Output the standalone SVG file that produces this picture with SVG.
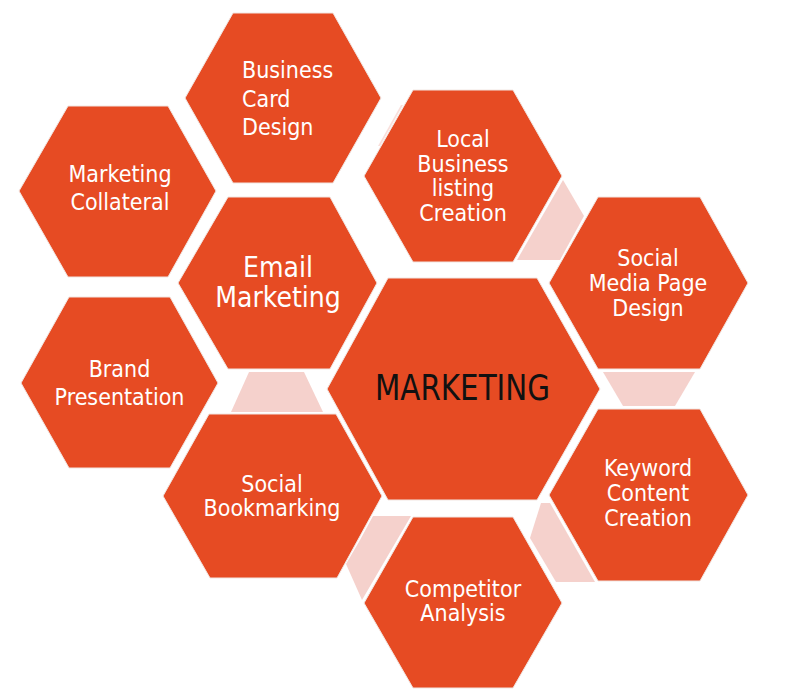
<svg xmlns="http://www.w3.org/2000/svg" width="800" height="700" viewBox="0 0 800 700">
<style>
.hex{fill:#E64B23;stroke:#f1e6e2;stroke-width:1}
.con{fill:#F5D1CC}
.t{font-family:"DejaVu Sans Condensed","DejaVu Sans",sans-serif;font-size:23px;fill:#ffffff;text-anchor:middle}
.tl{text-anchor:start}
.big{font-size:28px}
.main{font-family:"DejaVu Sans Condensed","DejaVu Sans",sans-serif;font-size:35px;fill:#111111;text-anchor:middle}
</style>
<rect width="800" height="700" fill="#ffffff"/>
<g id="connectors">
<polygon class="con" points="563,180 584,216 560,260 517,260 540,220"/>
<polygon class="con" points="249,372 304,372 323,412 231,412"/>
<polygon class="con" points="603,372 695,372 675,406 623,406"/>
<polygon class="con" points="373,516 411,516 362,600 346,564 360,540"/>
<polygon class="con" points="541,503 550,503 595,582 556,582 530,538"/>
<polygon class="con" points="401,105 403,105 380,146 378,146" opacity="0.7"/>
</g>
<g id="n-business-card">
<polygon class="hex" points="233,13 333,13 381,98 333,183 233,183 185,98"/>
<text class="t tl"><tspan x="242" y="78">Business</tspan><tspan x="242" y="107">Card</tspan><tspan x="242" y="135">Design</tspan></text>
</g>
<g id="n-marketing-collateral">
<polygon class="hex" points="68,106 168,106 216,191 168,277 68,277 19,191"/>
<text class="t"><tspan x="120" y="182">Marketing</tspan><tspan x="120" y="210">Collateral</tspan></text>
</g>
<g id="n-brand-presentation">
<polygon class="hex" points="69,297 170,297 218,383 170,468 69,468 21,383"/>
<text class="t"><tspan x="119.5" y="377">Brand</tspan><tspan x="119.5" y="405">Presentation</tspan></text>
</g>
<g id="n-email-marketing">
<polygon class="hex" points="228,197 330,197 377,283 330,369 228,369 178,283"/>
<text class="t big"><tspan x="278" y="277">Email</tspan><tspan x="278" y="307">Marketing</tspan></text>
</g>
<g id="n-social-bookmarking">
<polygon class="hex" points="209,414 336,414 382,496 337,578 210,578 163,496"/>
<text class="t"><tspan x="272" y="492">Social</tspan><tspan x="272" y="516">Bookmarking</tspan></text>
</g>
<g id="n-marketing">
<polygon class="hex" points="388,278 537,278 600,389 537,500 388,500 327,389"/>
<text class="main" x="462.5" y="400" textLength="175" lengthAdjust="spacingAndGlyphs">MARKETING</text>
</g>
<g id="n-local-business">
<polygon class="hex" points="413,90 513,90 562,176 513,262 413,262 364,176"/>
<text class="t"><tspan x="463" y="147">Local</tspan><tspan x="463" y="172">Business</tspan><tspan x="463" y="196">listing</tspan><tspan x="463" y="221">Creation</tspan></text>
</g>
<g id="n-social-media">
<polygon class="hex" points="598,197 700,197 748,283 700,369 598,369 549,283"/>
<text class="t"><tspan x="648" y="266">Social</tspan><tspan x="648" y="291">Media Page</tspan><tspan x="648" y="316">Design</tspan></text>
</g>
<g id="n-keyword">
<polygon class="hex" points="598,409 700,409 748,495 700,581 598,581 549,495"/>
<text class="t"><tspan x="648" y="476">Keyword</tspan><tspan x="648" y="501">Content</tspan><tspan x="648" y="526">Creation</tspan></text>
</g>
<g id="n-competitor">
<polygon class="hex" points="413,517 513,517 562,603 513,688 413,688 364,603"/>
<text class="t"><tspan x="463" y="597">Competitor</tspan><tspan x="463" y="621">Analysis</tspan></text>
</g>
</svg>
